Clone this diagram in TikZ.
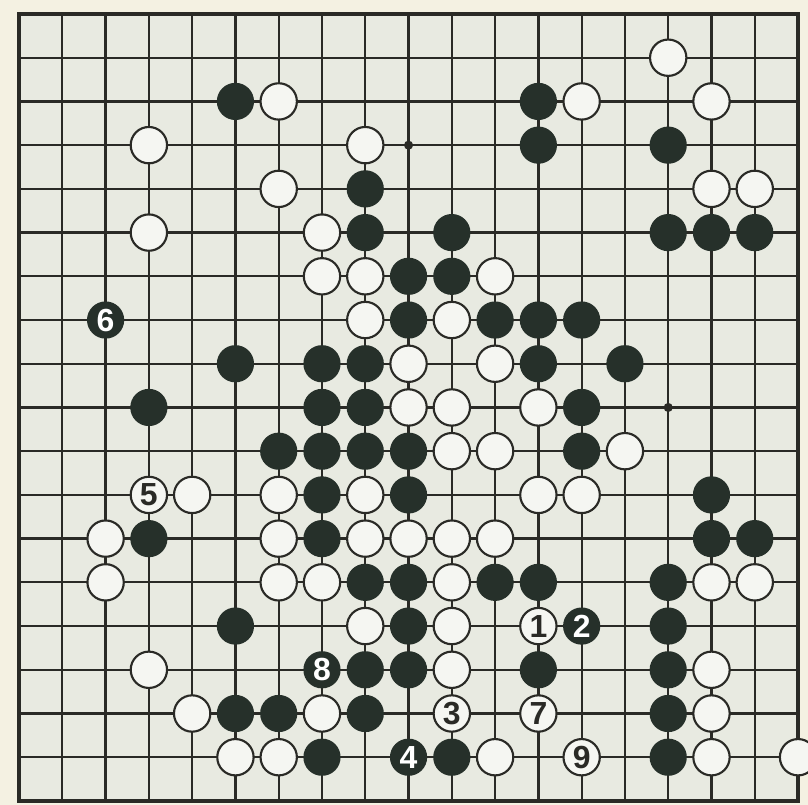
\documentclass[tikz,border=0pt]{standalone}
\usepackage{fontspec}
\setmainfont{Liberation Sans}
\definecolor{paper}{RGB}{244,241,226}
\definecolor{boardbg}{RGB}{232,234,225}
\definecolor{ink}{RGB}{42,42,38}
\definecolor{stoneblk}{RGB}{38,48,42}

\begin{document}
\begin{tikzpicture}[
  x=1cm, y=-1.0102cm,
  font=\fontsize{21}{21}\selectfont\bfseries,
  gridline/.style={ink, line width=1.5pt},
  edge/.style={ink, line width=2.6pt},
  wst/.style={circle, draw=ink, line width=1.4pt, fill=white!55!boardbg, minimum size=0.84cm, inner sep=0pt, text=ink},
  bst/.style={circle, fill=stoneblk, minimum size=0.86cm, inner sep=0pt, text=white},
  hoshi/.style={circle, fill=ink, minimum size=6pt, inner sep=0pt}]
\useasboundingbox (-0.44,-0.32) rectangle (18.23,18.09);
\fill[paper] (-0.44,-0.32) rectangle (18.23,18.09);
\clip (-0.44,-0.32) rectangle (18.23,18.09);
% board
\fill[boardbg] (0,0) rectangle (18,18);
\foreach \i in {1,...,17} {
  \draw[gridline] (\i,0) -- (\i,18);
  \draw[gridline] (0,\i) -- (18,\i);
}
\draw[edge] (0,0) rectangle (18,18);
\foreach \c in {3,9,15}
  \foreach \r in {3,9,15}
    \node[hoshi] (h\c-\r) at (\c,\r) {};
% black stones, row/columns
\foreach \r/\cols in {2/{5,12}, 3/{12,15}, 4/{8}, 5/{8,10,15,16,17}, 6/{9,10},
    7/{9,11,12,13}, 8/{5,7,8,12,14}, 9/{3,7,8,13}, 10/{6,7,8,9,13}, 11/{7,9,16},
    12/{3,7,16,17}, 13/{8,9,11,12,15}, 14/{5,9,15}, 15/{8,9,12,15},
    16/{5,6,8,15}, 17/{7,10,15}}
  \foreach \c in \cols
    \node[bst] (b\c-\r) at (\c,\r) {};
% white stones, row/columns
\foreach \r/\cols in {1/{15}, 2/{6,13,16}, 3/{3,8}, 4/{6,16,17}, 5/{3,7}, 6/{7,8,11},
    7/{8,10}, 8/{9,11}, 9/{9,10,12}, 10/{10,11,14}, 11/{4,6,8,12,13},
    12/{2,6,8,9,10,11}, 13/{2,6,7,10,16,17}, 14/{8,10}, 15/{3,10,16},
    16/{4,7,16}, 17/{5,6,11,16,18}}
  \foreach \c in \cols
    \node[wst] (w\c-\r) at (\c,\r) {};
% numbered moves
\node[wst] (m1) at (12,14) {1};
\node[bst] (m2) at (13,14) {2};
\node[wst] (m3) at (10,16) {3};
\node[bst] (m4) at (9,17) {4};
\node[wst] (m5) at (3,11) {5};
\node[bst] (m6) at (2,7) {6};
\node[wst] (m7) at (12,16) {7};
\node[bst] (m8) at (7,15) {8};
\node[wst] (m9) at (13,17) {9};
\end{tikzpicture}
\end{document}
